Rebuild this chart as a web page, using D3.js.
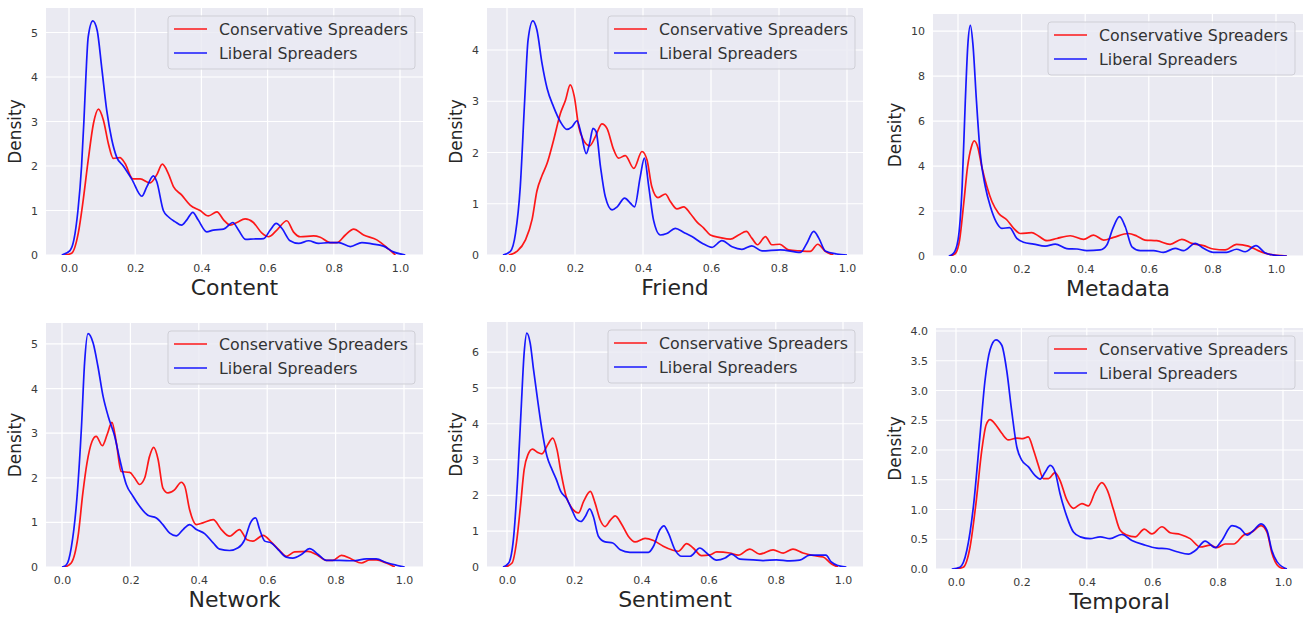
<!DOCTYPE html>
<html>
<head>
<meta charset="utf-8">
<script src="https://cdn.jsdelivr.net/npm/d3@7"></script>
<style>
  body { margin: 0; background: #fff; }
  svg { display: block; }
  text { font-family: "DejaVu Sans", sans-serif; }
</style>
</head>
<body>
<svg id="chart" width="1303" height="617"></svg>
<script>
// Density curves, as [x, density] pairs
const contentCons = [[-0.012,0],[0.008,0.04],[0.028,0.49],[0.043,1.24],[0.058,2.13],[0.074,2.96],[0.089,3.28],[0.104,3.03],[0.119,2.5],[0.134,2.17],[0.154,2.19],[0.169,2.06],[0.193,1.71],[0.215,1.71],[0.245,1.62],[0.265,1.8],[0.282,2.04],[0.3,1.83],[0.316,1.53],[0.34,1.35],[0.366,1.12],[0.396,1.0],[0.421,0.88],[0.447,0.97],[0.467,0.79],[0.487,0.67],[0.507,0.73],[0.532,0.81],[0.557,0.73],[0.583,0.49],[0.603,0.41],[0.628,0.56],[0.658,0.77],[0.678,0.52],[0.699,0.41],[0.739,0.43],[0.759,0.4],[0.789,0.28],[0.81,0.28],[0.835,0.45],[0.86,0.58],[0.89,0.45],[0.93,0.34],[0.966,0.13],[0.986,0]];
const contentLib = [[-0.022,0],[0.003,0.1],[0.015,0.35],[0.027,1.0],[0.038,2.0],[0.045,3.0],[0.051,4.0],[0.058,4.9],[0.072,5.26],[0.085,5.05],[0.099,4.2],[0.114,3.25],[0.129,2.6],[0.144,2.2],[0.164,2.0],[0.19,1.7],[0.22,1.32],[0.235,1.53],[0.255,1.78],[0.265,1.65],[0.285,1.0],[0.3,0.86],[0.32,0.75],[0.34,0.67],[0.356,0.79],[0.374,0.96],[0.39,0.79],[0.416,0.52],[0.436,0.56],[0.467,0.58],[0.495,0.73],[0.512,0.56],[0.534,0.35],[0.557,0.36],[0.588,0.37],[0.608,0.56],[0.626,0.71],[0.643,0.6],[0.668,0.32],[0.694,0.26],[0.724,0.32],[0.754,0.26],[0.784,0.28],[0.815,0.28],[0.85,0.19],[0.885,0.28],[0.915,0.25],[0.95,0.2],[0.98,0.07],[1.016,0]];

const friendCons = [[0.005,0],[0.029,0.07],[0.054,0.29],[0.074,0.7],[0.088,1.25],[0.103,1.55],[0.118,1.79],[0.137,2.24],[0.157,2.76],[0.172,3.02],[0.186,3.32],[0.198,3.09],[0.211,2.5],[0.225,2.24],[0.243,2.13],[0.26,2.31],[0.279,2.56],[0.294,2.47],[0.314,2.05],[0.328,1.89],[0.348,1.94],[0.373,1.69],[0.397,2.02],[0.412,1.85],[0.426,1.33],[0.444,1.12],[0.466,1.19],[0.48,1.05],[0.5,0.9],[0.52,0.94],[0.539,0.81],[0.559,0.64],[0.578,0.53],[0.598,0.39],[0.627,0.34],[0.657,0.31],[0.681,0.39],[0.704,0.46],[0.72,0.33],[0.737,0.2],[0.76,0.36],[0.779,0.2],[0.802,0.21],[0.828,0.1],[0.863,0.08],[0.892,0.07],[0.914,0.21],[0.936,0.07],[0.96,0]];
const friendLib = [[-0.012,0],[0.01,0.07],[0.025,0.42],[0.039,1.33],[0.052,3.02],[0.062,4.2],[0.076,4.57],[0.088,4.39],[0.103,3.74],[0.118,3.25],[0.137,2.89],[0.157,2.6],[0.176,2.45],[0.191,2.5],[0.206,2.62],[0.218,2.37],[0.233,1.98],[0.243,2.18],[0.253,2.47],[0.262,2.41],[0.275,1.72],[0.289,1.14],[0.309,0.88],[0.324,0.94],[0.346,1.11],[0.363,1.01],[0.375,0.94],[0.392,1.53],[0.404,1.89],[0.417,1.33],[0.431,0.68],[0.451,0.39],[0.47,0.42],[0.495,0.52],[0.52,0.44],[0.544,0.36],[0.574,0.23],[0.603,0.15],[0.632,0.28],[0.662,0.16],[0.691,0.11],[0.72,0.18],[0.75,0.08],[0.804,0.1],[0.863,0.05],[0.882,0.23],[0.902,0.46],[0.917,0.33],[0.936,0.08],[0.97,0.02],[1.0,0]];

const metadataCons = [[-0.024,0],[-0.008,0.12],[0.005,0.71],[0.018,2.34],[0.03,3.96],[0.042,4.85],[0.051,5.12],[0.062,4.85],[0.075,3.96],[0.091,3.08],[0.107,2.41],[0.128,1.89],[0.154,1.6],[0.175,1.23],[0.196,1.0],[0.232,1.04],[0.253,0.89],[0.28,0.68],[0.311,0.78],[0.353,0.9],[0.395,0.74],[0.426,0.93],[0.458,0.71],[0.489,0.83],[0.536,1.0],[0.562,0.89],[0.588,0.71],[0.625,0.68],[0.667,0.52],[0.704,0.74],[0.735,0.56],[0.772,0.46],[0.803,0.31],[0.84,0.27],[0.876,0.52],[0.913,0.44],[0.944,0.24],[0.981,0.07],[1.034,0]];
const metadataLib = [[-0.029,0],[-0.014,0.12],[0.0,0.71],[0.013,3.08],[0.023,6.9],[0.031,9.4],[0.039,10.25],[0.047,9.4],[0.058,6.9],[0.07,4.55],[0.086,3.08],[0.102,2.19],[0.12,1.52],[0.138,1.23],[0.162,1.26],[0.185,0.78],[0.206,0.61],[0.238,0.53],[0.274,0.44],[0.306,0.53],[0.342,0.33],[0.374,0.31],[0.405,0.24],[0.447,0.27],[0.468,0.49],[0.487,1.23],[0.508,1.75],[0.526,1.3],[0.547,0.41],[0.573,0.24],[0.615,0.24],[0.646,0.16],[0.683,0.34],[0.709,0.24],[0.746,0.56],[0.772,0.34],[0.803,0.16],[0.845,0.16],[0.876,0.3],[0.903,0.19],[0.937,0.46],[0.965,0.15],[0.997,0.03],[1.034,0]];

const networkCons = [[0.008,0],[0.027,0.09],[0.047,0.69],[0.061,1.66],[0.073,2.33],[0.088,2.82],[0.1,2.93],[0.118,2.72],[0.132,2.97],[0.146,3.24],[0.159,2.78],[0.173,2.14],[0.198,2.12],[0.212,2.0],[0.227,1.85],[0.242,2.0],[0.256,2.48],[0.268,2.68],[0.281,2.41],[0.295,1.77],[0.31,1.66],[0.329,1.73],[0.349,1.9],[0.359,1.81],[0.373,1.29],[0.393,0.95],[0.412,0.99],[0.442,1.06],[0.466,0.84],[0.49,0.69],[0.519,0.84],[0.541,0.61],[0.558,0.58],[0.588,0.71],[0.612,0.56],[0.636,0.37],[0.656,0.24],[0.68,0.34],[0.719,0.35],[0.744,0.28],[0.773,0.15],[0.792,0.15],[0.817,0.26],[0.846,0.18],[0.875,0.09],[0.9,0.16],[0.919,0.16],[0.948,0.09],[0.973,0]];
const networkLib = [[0.0,0],[0.013,0.05],[0.027,0.43],[0.044,1.58],[0.057,3.15],[0.066,4.57],[0.076,5.23],[0.091,5.02],[0.105,4.5],[0.12,3.83],[0.135,3.38],[0.154,2.93],[0.169,2.41],[0.188,1.85],[0.208,1.58],[0.227,1.36],[0.251,1.16],[0.276,1.1],[0.295,0.95],[0.315,0.76],[0.334,0.7],[0.354,0.84],[0.373,0.95],[0.393,0.84],[0.417,0.75],[0.442,0.54],[0.461,0.4],[0.49,0.37],[0.515,0.43],[0.534,0.61],[0.551,0.99],[0.566,1.1],[0.578,0.84],[0.593,0.58],[0.612,0.54],[0.632,0.39],[0.656,0.22],[0.675,0.2],[0.7,0.28],[0.724,0.41],[0.749,0.28],[0.773,0.15],[0.812,0.15],[0.851,0.14],[0.89,0.18],[0.919,0.18],[0.948,0.1],[0.978,0.04],[1.002,0]];

const sentimentCons = [[-0.005,0],[0.015,0.11],[0.028,0.67],[0.04,1.69],[0.051,2.72],[0.062,3.13],[0.076,3.29],[0.091,3.2],[0.104,3.16],[0.121,3.41],[0.136,3.6],[0.149,3.27],[0.161,2.62],[0.176,1.97],[0.193,1.65],[0.213,1.51],[0.228,1.83],[0.248,2.11],[0.262,1.79],[0.277,1.32],[0.292,1.13],[0.307,1.3],[0.322,1.43],[0.342,1.18],[0.361,0.86],[0.381,0.7],[0.411,0.8],[0.436,0.74],[0.465,0.58],[0.49,0.48],[0.51,0.44],[0.535,0.65],[0.554,0.53],[0.579,0.32],[0.604,0.34],[0.624,0.42],[0.663,0.39],[0.688,0.33],[0.723,0.5],[0.752,0.36],[0.792,0.48],[0.822,0.39],[0.851,0.5],[0.881,0.39],[0.911,0.32],[0.941,0.28],[0.965,0.09],[0.985,0]];
const sentimentLib = [[-0.012,0],[0.005,0.11],[0.02,0.86],[0.032,2.53],[0.042,4.39],[0.051,5.97],[0.059,6.53],[0.069,6.25],[0.079,5.51],[0.091,4.67],[0.104,3.83],[0.119,3.09],[0.134,2.72],[0.147,2.44],[0.16,2.11],[0.178,1.9],[0.193,1.6],[0.208,1.32],[0.22,1.27],[0.233,1.41],[0.246,1.62],[0.257,1.41],[0.272,0.86],[0.292,0.7],[0.315,0.67],[0.337,0.48],[0.366,0.41],[0.396,0.41],[0.421,0.41],[0.436,0.58],[0.455,1.04],[0.467,1.15],[0.48,0.95],[0.5,0.48],[0.52,0.3],[0.545,0.3],[0.574,0.53],[0.594,0.39],[0.624,0.19],[0.649,0.25],[0.668,0.36],[0.693,0.22],[0.733,0.2],[0.762,0.18],[0.802,0.2],[0.842,0.17],[0.871,0.19],[0.901,0.33],[0.926,0.33],[0.949,0.33],[0.965,0.14],[0.985,0.04],[1.01,0]];

const temporalCons = [[-0.003,0],[0.022,0.03],[0.043,0.37],[0.061,1.1],[0.079,2.0],[0.092,2.42],[0.104,2.51],[0.122,2.42],[0.14,2.28],[0.16,2.17],[0.186,2.2],[0.204,2.19],[0.221,2.22],[0.237,2.0],[0.252,1.74],[0.267,1.52],[0.283,1.52],[0.303,1.62],[0.318,1.49],[0.339,1.16],[0.359,1.02],[0.385,1.1],[0.405,1.06],[0.426,1.3],[0.446,1.45],[0.463,1.32],[0.482,0.99],[0.502,0.65],[0.522,0.57],[0.548,0.54],[0.576,0.67],[0.599,0.59],[0.63,0.71],[0.655,0.61],[0.686,0.58],[0.716,0.51],[0.747,0.37],[0.778,0.4],[0.798,0.36],[0.823,0.42],[0.849,0.42],[0.88,0.57],[0.905,0.62],[0.933,0.73],[0.951,0.62],[0.966,0.27],[0.987,0.04],[1.007,0]];
const temporalLib = [[-0.013,0],[0.012,0.03],[0.033,0.31],[0.053,1.04],[0.073,2.22],[0.089,3.18],[0.104,3.68],[0.122,3.85],[0.14,3.76],[0.155,3.34],[0.17,2.67],[0.186,2.05],[0.201,1.83],[0.221,1.72],[0.242,1.57],[0.257,1.51],[0.272,1.62],[0.288,1.74],[0.303,1.63],[0.318,1.27],[0.339,0.88],[0.359,0.62],[0.38,0.54],[0.41,0.51],[0.441,0.54],[0.471,0.51],[0.507,0.58],[0.538,0.48],[0.573,0.41],[0.614,0.35],[0.645,0.34],[0.676,0.29],[0.711,0.25],[0.732,0.31],[0.762,0.47],[0.793,0.36],[0.813,0.48],[0.844,0.73],[0.869,0.68],[0.89,0.57],[0.91,0.65],[0.933,0.76],[0.951,0.65],[0.966,0.31],[0.982,0.12],[1.012,0]];

const featureNames = ['Content', 'Friend', 'Metadata', 'Network', 'Sentiment', 'Temporal'];
const seriesNames = ['Conservative Spreaders', 'Liberal Spreaders'];
const xTicks = [0, 0.2, 0.4, 0.6, 0.8, 1.0];
const yTickSets = [
  [0, 1, 2, 3, 4, 5],
  [0, 1, 2, 3, 4],
  [0, 2, 4, 6, 8, 10],
  [0, 1, 2, 3, 4, 5],
  [0, 1, 2, 3, 4, 5, 6],
  [0, 0.5, 1, 1.5, 2, 2.5, 3, 3.5, 4]
];
const yMaxes = [5.55, 4.82, 10.76, 5.47, 6.84, 4.05];

// pixel layout of each axes (plot box and where x=0 / x=1 land)
const layout = [
  { left: 46,  right: 423,  top: 8,   bottom: 255, x0: 69,  x1: 400 },
  { left: 487, right: 863,  top: 8,   bottom: 255, x0: 507, x1: 847 },
  { left: 933, right: 1303, top: 14,  bottom: 256, x0: 958, x1: 1276 },
  { left: 46,  right: 423,  top: 323, bottom: 567, x0: 62,  x1: 404 },
  { left: 487, right: 863,  top: 322, bottom: 567, x0: 507, x1: 843 },
  { left: 936, right: 1303, top: 328, bottom: 569, x0: 956, x1: 1283 }
];

const consData = [contentCons, friendCons, metadataCons, networkCons, sentimentCons, temporalCons];
const libData = [contentLib, friendLib, metadataLib, networkLib, sentimentLib, temporalLib];
const colors = ['#ff0000', '#0000ff'];

const svg = d3.select('#chart');

featureNames.forEach((name, i) => {
  const L = layout[i];
  const x = d3.scaleLinear().domain([0, 1]).range([L.x0, L.x1]);
  const y = d3.scaleLinear().domain([0, yMaxes[i]]).range([L.bottom, L.top]);
  const g = svg.append('g');

  // background
  g.append('rect')
    .attr('x', L.left).attr('y', L.top)
    .attr('width', L.right - L.left).attr('height', L.bottom - L.top)
    .attr('fill', '#eaeaf2');

  // grid
  g.selectAll('.vgrid').data(xTicks).enter().append('line')
    .attr('x1', d => x(d)).attr('x2', d => x(d))
    .attr('y1', L.top).attr('y2', L.bottom)
    .attr('stroke', '#fff').attr('stroke-width', 1.2);
  g.selectAll('.hgrid').data(yTickSets[i]).enter().append('line')
    .attr('x1', L.left).attr('x2', L.right)
    .attr('y1', d => y(d)).attr('y2', d => y(d))
    .attr('stroke', '#fff').attr('stroke-width', 1.2);

  // clip for the curves
  const clipId = 'clip' + i;
  g.append('clipPath').attr('id', clipId).append('rect')
    .attr('x', L.left).attr('y', L.top)
    .attr('width', L.right - L.left).attr('height', L.bottom - L.top);

  const line = d3.line()
    .x(d => x(d[0]))
    .y(d => y(d[1]))
    .curve(d3.curveMonotoneX);

  [consData[i], libData[i]].forEach((series, k) => {
    g.append('path')
      .datum(series)
      .attr('clip-path', `url(#${clipId})`)
      .attr('fill', 'none')
      .attr('stroke', colors[k])
      .attr('stroke-width', 1.7)
      .attr('stroke-opacity', 0.9)
      .attr('d', line);
  });

  // axes
  const xAxis = g.append('g')
    .attr('transform', `translate(0,${L.bottom})`)
    .call(d3.axisBottom(x).tickValues(xTicks).tickSize(0).tickPadding(9).tickFormat(d3.format('.1f')));
  const yFmt = i === 5 ? d3.format('.1f') : d3.format('d');
  const yAxis = g.append('g')
    .attr('transform', `translate(${L.left},0)`)
    .call(d3.axisLeft(y).tickValues(yTickSets[i]).tickSize(0).tickPadding(8).tickFormat(yFmt));
  [xAxis, yAxis].forEach(a => {
    a.select('.domain').remove();
    a.selectAll('text')
      .style('font-family', '"DejaVu Sans", sans-serif')
      .style('font-size', '11px')
      .attr('fill', '#3a3a3a');
  });

  // axis labels
  g.append('text')
    .attr('x', (L.left + L.right) / 2)
    .attr('y', L.bottom + 40)
    .attr('text-anchor', 'middle')
    .attr('font-size', 22)
    .attr('fill', '#262626')
    .text(name);

  // bbox of the y axis spans from the widest label to the axis line
  const tickW = yAxis.node().getBBox().width;
  const labelX = L.left - tickW - 10;
  g.append('text')
    .attr('transform', `translate(${labelX},${(L.top + L.bottom) / 2}) rotate(-90)`)
    .attr('text-anchor', 'middle')
    .attr('font-size', 17)
    .attr('fill', '#262626')
    .text('Density');

  // legend
  const lw = 247, lh = 53;
  const lx = L.right - 8 - lw, ly = L.top + 8;
  const lg = g.append('g').attr('transform', `translate(${lx},${ly})`);
  lg.append('rect')
    .attr('width', lw).attr('height', lh)
    .attr('rx', 3).attr('ry', 3)
    .attr('fill', '#eaeaf2').attr('fill-opacity', 0.8)
    .attr('stroke', '#cfcfd6').attr('stroke-width', 1);
  seriesNames.forEach((s, k) => {
    const yy = 13 + k * 24;
    lg.append('line')
      .attr('x1', 6).attr('x2', 39)
      .attr('y1', yy).attr('y2', yy)
      .attr('stroke', colors[k]).attr('stroke-width', 1.7).attr('stroke-opacity', 0.9);
    lg.append('text')
      .attr('x', 51).attr('y', yy)
      .attr('dy', '0.36em')
      .attr('font-size', 15.8)
      .attr('fill', '#333')
      .text(s);
  });
});
</script>
</body>
</html>
